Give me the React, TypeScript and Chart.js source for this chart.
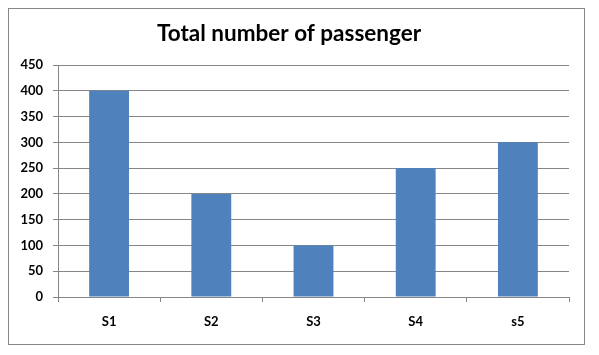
import React, { useEffect, useRef } from "react";
import { Chart, registerables } from "chart.js";

Chart.register(...registerables);

const categories = ["S1", "S2", "S3", "S4", "s5"];
const passengers = [400, 200, 100, 250, 300];
const yTicks = [0, 50, 100, 150, 200, 250, 300, 350, 400, 450];
const titleText = "Total number of passenger";

const GRID = "#868686";
const BAR = "#4F81BD";
const FONT = "Lato, 'Open Sans', sans-serif";

export default function App() {
  const ref = useRef<HTMLCanvasElement | null>(null);

  useEffect(() => {
    if (!ref.current) return;
    const chart = new Chart(ref.current, {
      type: "bar",
      data: {
        labels: categories,
        datasets: [
          {
            data: passengers,
            backgroundColor: BAR,
            borderWidth: 0,
            barPercentage: 0.39,
            categoryPercentage: 1,
          },
        ],
      },
      options: {
        animation: false,
        responsive: false,
        maintainAspectRatio: false,
        layout: { padding: { left: 0, right: 15, top: 0, bottom: 0 } },
        plugins: {
          legend: { display: false },
          tooltip: { enabled: false },
          title: {
            display: true,
            text: titleText,
            color: "#000",
            font: { family: FONT, size: 22.5, weight: "bold", lineHeight: 1.2 },
            padding: { top: 11, bottom: 18 },
          },
        },
        scales: {
          x: {
            offset: true,
            grid: {
              offset: true,
              drawOnChartArea: false,
              drawTicks: true,
              tickLength: 5,
              color: GRID,
            },
            border: { color: GRID },
            ticks: {
              color: "#000",
              font: { family: FONT, size: 13, weight: "bold" },
              padding: 12,
            },
            afterFit: (axis: any) => {
              axis.height = 47;
            },
          },
          y: {
            min: 0,
            max: 450,
            afterBuildTicks: (axis: any) => {
              axis.ticks = yTicks.map((v) => ({ value: v }));
            },
            grid: {
              color: GRID,
              drawTicks: true,
              tickLength: 5,
            },
            border: { color: GRID },
            ticks: {
              color: "#000",
              font: { family: FONT, size: 13, weight: "bold" },
              padding: 10,
            },
            afterFit: (axis: any) => {
              axis.width = 49;
            },
          },
        },
      },
    });
    return () => chart.destroy();
  }, []);

  return (
    <div
      style={{
        width: 577,
        height: 337,
        border: "1px solid #878787",
        boxSizing: "border-box",
        background: "#fff",
      }}
    >
      <canvas ref={ref} width={575} height={335} style={{ display: "block" }} />
    </div>
  );
}
